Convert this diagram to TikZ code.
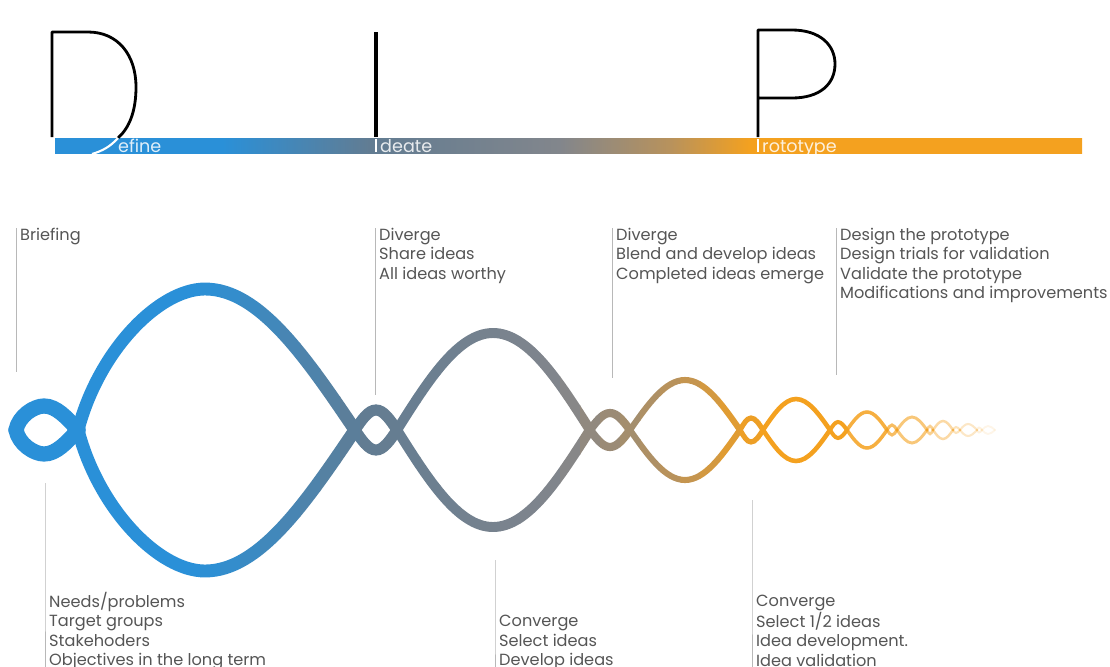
\documentclass[tikz,border=0pt]{standalone}
\usepackage{fontspec}
\setmainfont{Poppins}
\usetikzlibrary{positioning}

\definecolor{dipblue}{HTML}{2A90D8}
\definecolor{dipslate}{HTML}{627C92}
\definecolor{dipgray}{HTML}{82868C}
\definecolor{diptan}{HTML}{B8925C}
\definecolor{diporange}{HTML}{F4A11F}
\definecolor{diptext}{HTML}{555555}
\definecolor{diptick}{HTML}{B8B8B8}

% blue -> slate -> gray -> orange, across the page width
\pgfdeclarehorizontalshading{dipgrad}{100bp}{color(0bp)=(dipblue); color(35bp)=(dipblue); color(41.7bp)=(dipslate); color(50.2bp)=(dipgray); color(55.2bp)=(diptan); color(58.8bp)=(diporange); color(100bp)=(diporange)}

% wave lenses: from x / top x / to x / half height / left fullness / line width / opacity
\newcommand{\wavelist}{16/44/78/24/.3/13pt/1, 78/205/355/141/.5/11pt/1, 355/376/397/20/1/9.5pt/1,
  397/493/590/97/1/8.5pt/1, 590/610/630/17/1/7pt/1, 630/685/740/50/1/5.2pt/1, 740/751/763/12/1/4.4pt/1,
  763/796/830/31/1/3.9pt/1, 830/838/847/8/1/3.4pt/1, 847/867/887/18/1/3pt/.85, 887/892/897/5/1/2.6pt/.7,
  897/912/927/13/1/2.5pt/.6, 927/930/933/4/1/2.2pt/.5, 933/943/953/9/1/2.1pt/.4, 953/956/960/3/1/1.8pt/.3,
  960/968/977/6/1/1.8pt/.25, 977/979/982/2.5/1/1.6pt/.15, 982/988/995/4/1/1.6pt/.1}

% the two strands, each lens two quarter sines
\newcommand{\dipwave}[1]{%
  \foreach \wa/\wm/\wb/\wh/\wq/\wlw/\wop in \wavelist {
    \pgfmathsetmacro\wl{\wm-\wa}
    \pgfmathsetmacro\wr{\wb-\wm}
    \pgfmathsetmacro\wk{0.5123+(1-\wq)*0.1}
    \foreach \sg in {-1,1}
      \draw[#1, draw opacity=\wop, line width=\wlw, line cap=round]
        (\wa,430) .. controls ({\wa+\wq*0.326*\wl},{430+\sg*\wk*\wh}) and ({\wm-0.362*\wl},{430+\sg*\wh})
        .. (\wm,{430+\sg*\wh})
        .. controls ({\wm+0.362*\wr},{430+\sg*\wh}) and ({\wb-0.326*\wr},{430+\sg*0.5123*\wh}) .. (\wb,430);
  }}

\begin{document}
\begin{tikzpicture}[
    x=0.03cm, y=-0.03cm,
    letter/.style={draw=black, line width=2.4pt, line join=round},
    cut/.style={draw=white, line width=1.8pt},
    bartext/.style={anchor=base west, inner sep=0pt, text=white, text opacity=0.85,
      font=\fontsize{15}{15}\selectfont},
    note/.style={anchor=north west, align=left, inner xsep=3.4pt, inner ysep=0pt,
      text=diptext, font=\fontsize{13.8}{16.6}\selectfont},
    tick/.style={draw=diptick, line width=0.8pt}
]
    \useasboundingbox (0,0) rectangle (1110,667);

    % Title bar
    \begin{scope}
        \clip (55,138) rectangle (1082,153);
        \shade[shading=dipgrad] (0,138) rectangle (1110,153);
    \end{scope}

    % D I P
    \draw[letter] (52,137) -- (52,32) -- (88,32) .. controls (118,32) and (136,55) .. (136,87)
        .. controls (136,112) and (129,128) .. (118,138);
    \draw[cut] (118,138) .. controls (110,147) and (102,151) .. (92,154);
    \draw[letter, line width=3.4pt] (376,32) -- (376,137);
    \draw[cut] (376,139) -- (376,152);
    \draw[letter] (758,137) -- (758,30) -- (792,30) .. controls (820,30) and (835,45) .. (835,64)
        .. controls (835,84) and (820,98) .. (792,98) -- (758,98);
    \draw[cut] (758,139) -- (758,152);

    \node[bartext] (define) at (118,152) {efine};
    \node[bartext] (ideate) at (380,152) {deate};
    \node[bartext] (prototype) at (762,152) {rototype};

    % Wave, coloured strip by strip
    \begin{scope}
        \clip (0,250) rectangle (200,610);
        \dipwave{dipblue}
    \end{scope}
    \foreach \sx in {200,220,...,740} {
        \pgfmathsetmacro\xc{\sx+10}
        \ifdim\xc pt<370pt
            \pgfmathsetmacro\pc{(\xc-200)/170*100}\colorlet{strip}{dipslate!\pc!dipblue}
        \else\ifdim\xc pt<560pt
            \pgfmathsetmacro\pc{(\xc-370)/190*100}\colorlet{strip}{dipgray!\pc!dipslate}
        \else\ifdim\xc pt<670pt
            \pgfmathsetmacro\pc{(\xc-560)/110*100}\colorlet{strip}{diptan!\pc!dipgray}
        \else
            \pgfmathsetmacro\pc{(\xc-670)/90*100}\colorlet{strip}{diporange!\pc!diptan}
        \fi\fi\fi
        \begin{scope}
            \clip (\sx,250) rectangle (\sx+20.4,610);
            \dipwave{strip}
        \end{scope}
    }
    \begin{scope}
        \clip (760,250) rectangle (1110,610);
        \dipwave{diporange}
    \end{scope}

    % Top notes
    \node[note] (brief) at (16,228) {Briefing};
    \node[note] (share) at (375,228) {Diverge\\Share ideas\\All ideas worthy};
    \node[note] (blend) at (612,228) {Diverge\\Blend and develop ideas\\Completed ideas emerge};
    \node[note] (design) at (836,228) {Design the prototype\\Design trials for validation\\Validate the prototype\\Modifications and improvements};
    \coordinate (brief end) at (16,372);
    \coordinate (share end) at (375,395);
    \coordinate (blend end) at (612,378);
    \coordinate (design end) at (836,375);
    \foreach \n in {brief, share, blend, design}
        \draw[tick] (\n.north west) -- (\n\space end);

    % Bottom notes
    \node[note] (needs) at (45,592) {Needs/problems\\Target groups\\Stakehoders\\Objectives in the long term};
    \node[note] (select) at (495,615) {Converge\\Select ideas\\Develop ideas};
    \node[note] (valid) at (752,595) {Converge\\Select 1/2 ideas\\Idea development.\\Idea validation};
    \coordinate (needs top) at (45,483);
    \coordinate (select top) at (495,560);
    \coordinate (valid top) at (752,500);
    \foreach \n in {needs, select, valid}
        \draw[tick] (\n\space top) -- (\n.north west) -- ++(0,80);
\end{tikzpicture}
\end{document}
